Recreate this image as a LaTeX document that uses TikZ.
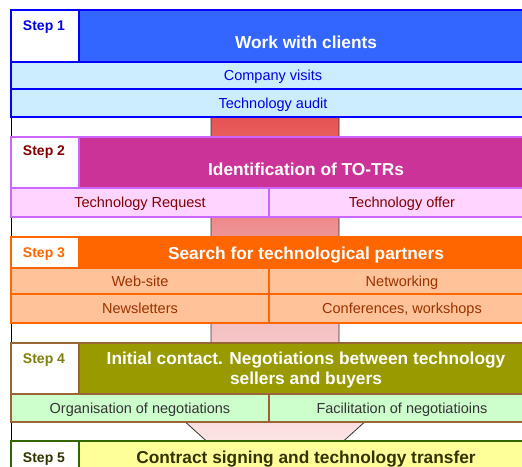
\documentclass[tikz,border=0pt]{standalone}
\usepackage{fontspec}
\setmainfont{Liberation Sans}
\definecolor{bAone}{HTML}{0000FF}
\definecolor{fAone}{HTML}{3366FF}
\definecolor{rAone}{HTML}{CCECFF}
\definecolor{tAone}{HTML}{0000E6}
\definecolor{bAtwo}{HTML}{CC66FF}
\definecolor{fAtwo}{HTML}{CC3399}
\definecolor{rAtwo}{HTML}{FFD5FF}
\definecolor{tAtwo}{HTML}{800000}
\definecolor{bAthree}{HTML}{FF6600}
\definecolor{rAthree}{HTML}{FFC299}
\definecolor{tAthree}{HTML}{993300}
\definecolor{bAfour}{HTML}{996633}
\definecolor{fAfour}{HTML}{999900}
\definecolor{rAfour}{HTML}{CCFFCC}
\definecolor{tAfour}{HTML}{333333}
\definecolor{lAfour}{HTML}{7F7F10}
\definecolor{bAfive}{HTML}{336600}
\definecolor{fAfive}{HTML}{FFFF99}
\definecolor{tAfive}{HTML}{333300}
\definecolor{fuTop}{HTML}{E65252}
\definecolor{fuMid}{HTML}{F4BCBE}
\definecolor{fuBot}{HTML}{FFF6F6}
\begin{document}
\begin{tikzpicture}[x=1pt,y=-1pt,
  cell/.style={rectangle, inner sep=0pt, line width=2pt, anchor=north west},
  rowcell/.style={cell, font=\fontsize{14.5}{17}\selectfont, text height=10.4pt, text depth=0pt},
  steplbl/.style={anchor=base, inner sep=0pt, font=\fontsize{14}{17}\bfseries},
  ttl/.style={anchor=base, inner sep=0pt, font=\fontsize{17.3}{21}\bfseries}]
\useasboundingbox (0,0) rectangle (522,466);
% frame line on the left
\coordinate (ltop) at (11,9);
\coordinate (lbot) at (11,466);
\draw[black, line width=1pt] (ltop) -- (lbot);
% funnel arrow
\draw[draw=black!80, line width=0.8pt, top color=fuTop, bottom color=fuBot, middle color=fuMid]
  (211,116) -- (339,116) -- (339,400) -- (389,400) -- (275,503) -- (161,400) -- (211,400) -- cycle;
% Step 1
\node[cell, draw=bAone, fill=white, minimum width=68pt, minimum height=52pt] (l1) at (10,9) {};
\node[cell, draw=bAone, fill=fAone, minimum width=456pt, minimum height=52pt] (h1) at (78,9) {};
\node[rowcell, draw=bAone, fill=rAone, text=tAone, minimum width=524pt, minimum height=27pt] (r1a) at (10,61) {Company visits};
\node[rowcell, draw=bAone, fill=rAone, text=tAone, minimum width=524pt, minimum height=28pt] (r1b) at (10,88) {Technology audit};
\node[steplbl, text=tAone] (s1) at (44,30) {Step 1};
\node[ttl, text=white] (t1) at (306,48) {Work with clients};
% Step 2
\node[cell, draw=bAtwo, fill=white, minimum width=68pt, minimum height=51pt] (l2) at (10,136) {};
\node[cell, draw=bAtwo, fill=fAtwo, minimum width=456pt, minimum height=51pt] (h2) at (78,136) {};
\node[rowcell, draw=bAtwo, fill=rAtwo, text=tAtwo, minimum width=258pt, minimum height=29pt] (r2a) at (10,187) {Technology Request};
\node[rowcell, draw=bAtwo, fill=rAtwo, text=tAtwo, minimum width=266pt, minimum height=29pt] (r2b) at (268,187) {Technology offer};
\node[steplbl, text=tAtwo] (s2) at (44,155) {Step 2};
\node[ttl, text=white] (t2) at (306,175) {Identification of TO-TRs};
% Step 3
\node[cell, draw=bAthree, fill=white, minimum width=68pt, minimum height=31pt] (l3) at (10,236) {};
\node[cell, draw=bAthree, fill=bAthree, minimum width=456pt, minimum height=31pt] (h3) at (78,236) {};
\node[rowcell, draw=bAthree, fill=rAthree, text=tAthree, minimum width=258pt, minimum height=26pt] (r3a) at (10,267) {Web-site};
\node[rowcell, draw=bAthree, fill=rAthree, text=tAthree, minimum width=266pt, minimum height=26pt] (r3b) at (268,267) {Networking};
\node[rowcell, draw=bAthree, fill=rAthree, text=tAthree, minimum width=258pt, minimum height=29pt] (r3c) at (10,293) {Newsletters};
\node[rowcell, draw=bAthree, fill=rAthree, text=tAthree, minimum width=266pt, minimum height=29pt] (r3d) at (268,293) {Conferences, workshops};
\node[steplbl, text=bAthree] (s3) at (44,257) {Step 3};
\node[ttl, text=white] (t3) at (306,259) {Search for technological partners};
% Step 4
\node[cell, draw=bAfour, fill=white, minimum width=68pt, minimum height=51pt] (l4) at (10,342) {};
\node[cell, draw=bAfour, fill=fAfour, minimum width=456pt, minimum height=51pt] (h4) at (78,342) {};
\node[rowcell, draw=bAfour, fill=rAfour, text=tAfour, minimum width=258pt, minimum height=28pt] (r4a) at (10,393) {Organisation of negotiations};
\node[rowcell, draw=bAfour, fill=rAfour, text=tAfour, minimum width=266pt, minimum height=28pt] (r4b) at (268,393) {Facilitation of negotiatioins};
\node[steplbl, text=lAfour] (s4) at (44,363) {Step 4};
\node[ttl, text=white] (t4a) at (306,364) {Initial contact. Negotiations between technology};
\node[ttl, text=white] (t4b) at (306,384) {sellers and buyers};
% Step 5
\node[cell, draw=bAfive, fill=white, minimum width=68pt, minimum height=52pt] (l5) at (10,440) {};
\node[cell, draw=bAfive, fill=fAfive, minimum width=456pt, minimum height=52pt] (h5) at (78,440) {};
\node[steplbl, text=tAfive] (s5) at (44,462) {Step 5};
\node[ttl, text=tAfive] (t5) at (306,463) {Contract signing and technology transfer};
\end{tikzpicture}
\end{document}
